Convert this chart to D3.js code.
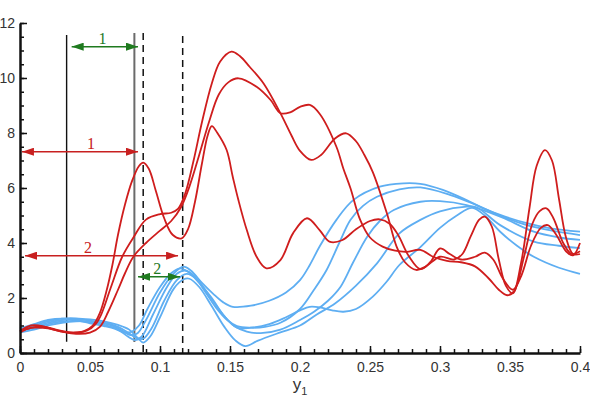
<!DOCTYPE html>
<html>
<head>
<meta charset="utf-8">
<script src="https://cdn.jsdelivr.net/npm/d3@7"></script>
<style>
  body { margin: 0; background: #fff; }
  svg { display: block; }
</style>
</head>
<body>
<svg id="chart" width="590" height="414"></svg>
<script>
// red curves
var redA = [[0,0.8],[0.008,1.0],[0.016,0.98],[0.026,0.82],[0.036,0.74],[0.045,0.78],[0.052,1.0],[0.057,1.45],[0.062,2.3],[0.066,3.2],[0.07,4.3],[0.075,5.4],[0.08,6.25],[0.085,6.8],[0.088,6.92],[0.092,6.7],[0.097,5.9],[0.103,4.9],[0.109,4.3],[0.1155,4.17],[0.12,4.5],[0.125,5.5],[0.13,6.9],[0.134,7.9],[0.137,8.25],[0.141,8.0],[0.1476,7.38],[0.152,6.4],[0.156,5.56],[0.162,4.47],[0.169,3.5],[0.176,3.08],[0.186,3.38],[0.195,4.35],[0.205,4.9],[0.214,4.47],[0.221,4.05],[0.23,4.1],[0.24,4.5],[0.25,4.8],[0.257,4.86],[0.264,4.7],[0.27,4.3],[0.278,3.5],[0.286,3.05],[0.293,3.3],[0.3,3.8],[0.307,3.6],[0.315,3.4],[0.325,3.5],[0.332,3.65],[0.338,3.4],[0.345,2.7],[0.352,2.3],[0.358,2.8],[0.365,3.9],[0.372,4.55],[0.377,4.65],[0.383,4.3],[0.39,3.7],[0.395,3.55],[0.4,4.0]];
var redB = [[0,0.75],[0.008,0.92],[0.018,0.95],[0.028,0.82],[0.038,0.74],[0.048,0.82],[0.054,1.05],[0.058,1.4],[0.065,2.4],[0.073,3.5],[0.081,4.2],[0.09,4.85],[0.1,5.05],[0.108,5.1],[0.113,5.25],[0.118,5.8],[0.124,7.0],[0.13,8.4],[0.137,9.8],[0.143,10.6],[0.151,10.96],[0.157,10.8],[0.164,10.41],[0.174,9.8],[0.186,8.72],[0.194,7.9],[0.2,7.35],[0.208,7.02],[0.215,7.2],[0.225,7.8],[0.233,7.99],[0.24,7.7],[0.246,7.2],[0.252,6.58],[0.262,5.09],[0.269,3.87],[0.275,3.3],[0.283,3.02],[0.29,3.15],[0.3,3.5],[0.31,3.4],[0.316,3.6],[0.322,4.25],[0.328,4.85],[0.332,4.96],[0.337,4.6],[0.342,3.4],[0.347,2.45],[0.352,2.17],[0.358,3.3],[0.364,5.3],[0.369,6.8],[0.375,7.38],[0.38,7.0],[0.385,5.6],[0.39,4.2],[0.395,3.6],[0.4,3.6]];
var redC = [[0,0.8],[0.01,0.92],[0.02,0.9],[0.03,0.78],[0.04,0.7],[0.05,0.74],[0.057,0.95],[0.063,1.5],[0.07,2.3],[0.075,2.9],[0.081,3.5],[0.09,4.0],[0.1,4.45],[0.108,4.8],[0.115,5.3],[0.121,6.05],[0.128,7.2],[0.135,8.4],[0.142,9.4],[0.149,9.85],[0.156,9.99],[0.169,9.68],[0.179,9.2],[0.186,8.72],[0.193,8.75],[0.2,8.95],[0.207,9.02],[0.214,8.7],[0.226,7.5],[0.231,6.7],[0.236,6.0],[0.243,4.84],[0.25,4.2],[0.259,3.87],[0.268,3.72],[0.276,3.68],[0.286,3.75],[0.295,3.5],[0.305,3.35],[0.315,3.3],[0.325,3.15],[0.335,2.7],[0.342,2.3],[0.348,2.1],[0.353,2.25],[0.36,3.5],[0.366,4.7],[0.371,5.15],[0.376,5.26],[0.381,4.9],[0.388,4.0],[0.394,3.6],[0.4,3.7]];

// blue curves
var blue1 = [[0,0.85],[0.01,0.95],[0.02,1.1],[0.03,1.2],[0.04,1.22],[0.05,1.18],[0.06,1.08],[0.068,0.95],[0.074,0.78],[0.079,0.65],[0.084,0.72],[0.09,1.2],[0.1,2.2],[0.109,2.85],[0.1167,3.14],[0.122,3.0],[0.13,2.55],[0.138,2.15],[0.145,1.85],[0.152,1.68],[0.165,1.72],[0.178,1.9],[0.19,2.2],[0.2,2.65],[0.207,3.2],[0.214,3.87],[0.226,4.84],[0.238,5.56],[0.257,6.05],[0.274,6.17],[0.286,6.15],[0.302,5.93],[0.319,5.56],[0.331,5.26],[0.343,5.02],[0.362,4.72],[0.379,4.53],[0.4,4.41]];
var blue2 = [[0,0.8],[0.01,0.9],[0.02,1.05],[0.03,1.15],[0.04,1.17],[0.05,1.12],[0.06,1.02],[0.07,0.85],[0.077,0.6],[0.082,0.47],[0.087,0.6],[0.095,1.4],[0.105,2.4],[0.112,2.88],[0.118,3.0],[0.124,2.82],[0.132,2.25],[0.14,1.65],[0.148,1.2],[0.155,0.98],[0.164,0.92],[0.175,0.95],[0.186,1.1],[0.2,1.6],[0.21,2.3],[0.219,3.02],[0.228,4.0],[0.236,4.84],[0.245,5.35],[0.255,5.68],[0.271,5.95],[0.286,6.02],[0.307,5.75],[0.326,5.38],[0.345,4.95],[0.362,4.65],[0.38,4.45],[0.4,4.29]];
var blue3 = [[0,0.75],[0.01,0.85],[0.02,1.0],[0.03,1.1],[0.04,1.15],[0.05,1.15],[0.06,1.1],[0.07,0.95],[0.077,0.75],[0.083,0.55],[0.088,0.52],[0.094,0.9],[0.103,1.9],[0.112,2.65],[0.119,2.88],[0.126,2.7],[0.135,2.1],[0.145,1.4],[0.153,0.98],[0.162,0.78],[0.172,0.72],[0.186,0.85],[0.2,1.2],[0.21,1.5],[0.22,1.9],[0.229,2.41],[0.238,3.3],[0.248,4.23],[0.257,4.8],[0.267,5.2],[0.286,5.5],[0.3,5.52],[0.319,5.38],[0.343,4.96],[0.367,4.41],[0.385,4.2],[0.4,4.11]];
var blue4 = [[0,0.85],[0.01,1.0],[0.02,1.15],[0.03,1.25],[0.04,1.26],[0.05,1.22],[0.06,1.15],[0.07,1.02],[0.078,0.85],[0.084,0.55],[0.088,0.38],[0.093,0.6],[0.1,1.3],[0.11,2.35],[0.117,2.68],[0.121,2.7],[0.128,2.4],[0.137,1.7],[0.146,0.95],[0.154,0.45],[0.161,0.25],[0.17,0.45],[0.186,0.75],[0.2,1.0],[0.212,1.4],[0.225,1.8],[0.24,2.45],[0.255,3.26],[0.271,4.35],[0.286,4.84],[0.3,5.15],[0.319,5.32],[0.326,5.3],[0.343,4.65],[0.367,4.05],[0.385,3.9],[0.4,3.81]];
var blue5 = [[0,0.9],[0.01,1.05],[0.02,1.2],[0.03,1.25],[0.04,1.2],[0.05,1.08],[0.06,0.98],[0.068,0.88],[0.075,0.74],[0.08,0.78],[0.085,1.0],[0.091,1.6],[0.1,2.4],[0.108,2.9],[0.114,3.08],[0.12,2.95],[0.128,2.55],[0.137,2.0],[0.145,1.4],[0.155,0.92],[0.165,0.92],[0.178,1.05],[0.19,1.3],[0.2,1.55],[0.207,1.68],[0.215,1.65],[0.223,1.55],[0.231,1.5],[0.24,1.6],[0.252,2.05],[0.262,2.6],[0.271,3.2],[0.286,3.85],[0.3,4.55],[0.312,5.0],[0.323,5.28],[0.333,4.95],[0.343,4.41],[0.355,3.9],[0.367,3.5],[0.385,3.1],[0.4,2.88]];

// reference lines: [x, yTop, yBottom]
var solidLines = [[0.0333, 11.56, 0.41, "#111", 1.4], [0.0817, 11.64, 0.4, "#6b6b6b", 2]];
var dashedLines = [[0.088, 11.64, 0], [0.1162, 11.53, 0]];

// double arrows: [x1, x2, y, label, label x]
var arrowStart = [0.0369, 0.0014, 0.0036, 0.0843];
var arrowEnd = [0.0843, 0.0843, 0.1129, 0.1143];
var arrowY = [11.14, 7.32, 3.54, 2.77];
var arrowLabel = ["1", "1", "2", "2"];
var arrowLabelX = [0.059, 0.0507, 0.0486, 0.098];
var arrowColor = ["#1f7a1f", "#c82020", "#c82020", "#1f7a1f"];

var xTicks = [0, 0.05, 0.1, 0.15, 0.2, 0.25, 0.3, 0.35, 0.4];
var yTicks = [0, 2, 4, 6, 8, 10, 12];

var svg = d3.select("#chart"),
    margin = {top: 23, right: 10, bottom: 61, left: 20},
    width = 590 - margin.left - margin.right,
    height = 414 - margin.top - margin.bottom;

var x = d3.scaleLinear().domain([0, 0.4]).range([0, width]);
var y = d3.scaleLinear().domain([0, 12]).range([height, 0]);

var g = svg.append("g").attr("transform", "translate(" + margin.left + "," + margin.top + ")");

var line = d3.line()
    .x(function (d) { return x(d[0]); })
    .y(function (d) { return y(d[1]); })
    .curve(d3.curveCatmullRom.alpha(0.5));

// vertical marker lines
g.selectAll(".vsolid").data(solidLines).enter().append("line")
    .attr("x1", function (d) { return x(d[0]); }).attr("x2", function (d) { return x(d[0]); })
    .attr("y1", function (d) { return y(d[1]); }).attr("y2", function (d) { return y(d[2]); })
    .attr("stroke", function (d) { return d[3]; })
    .attr("stroke-width", function (d) { return d[4]; });

g.selectAll(".vdash").data(dashedLines).enter().append("line")
    .attr("x1", function (d) { return x(d[0]); }).attr("x2", function (d) { return x(d[0]); })
    .attr("y1", function (d) { return y(d[1]); }).attr("y2", function (d) { return y(d[2]); })
    .attr("stroke", "#111")
    .attr("stroke-width", 1.5)
    .attr("stroke-dasharray", "7,5");

[blue1, blue2, blue3, blue4, blue5].forEach(function (s) {
    g.append("path").datum(s)
        .attr("fill", "none")
        .attr("stroke", "#5eaef2")
        .attr("stroke-width", 1.8)
        .attr("d", line);
});

[redA, redB, redC].forEach(function (s) {
    g.append("path").datum(s)
        .attr("fill", "none")
        .attr("stroke", "#cf1d1d")
        .attr("stroke-width", 1.8)
        .attr("d", line);
});

// arrows
var defs = svg.append("defs");
arrowColor.forEach(function (c, i) {
    defs.append("marker")
        .attr("id", "ah" + i)
        .attr("viewBox", "0 0 12 8")
        .attr("refX", 12).attr("refY", 4)
        .attr("markerWidth", 12).attr("markerHeight", 8)
        .attr("markerUnits", "userSpaceOnUse")
        .attr("orient", "auto-start-reverse")
        .append("path")
        .attr("d", "M0,0 L12,4 L0,8 Z")
        .attr("fill", c);
});

arrowY.forEach(function (ay, i) {
    g.append("line")
        .attr("x1", x(arrowStart[i])).attr("x2", x(arrowEnd[i]))
        .attr("y1", y(ay)).attr("y2", y(ay))
        .attr("stroke", arrowColor[i])
        .attr("stroke-width", 1.5)
        .attr("marker-start", "url(#ah" + i + ")")
        .attr("marker-end", "url(#ah" + i + ")");
    g.append("text")
        .attr("x", x(arrowLabelX[i]))
        .attr("y", y(ay) - 3)
        .attr("text-anchor", "middle")
        .attr("fill", arrowColor[i])
        .style("font-family", "'Liberation Serif', 'Times New Roman', serif")
        .style("font-size", "16px")
        .text(arrowLabel[i]);
});

// axes
var xMinor = d3.range(0, 41).map(function (i) { return i / 100; });
var yMinor = d3.range(0, 25).map(function (i) { return i / 2; });

g.append("g")
    .attr("transform", "translate(0," + height + ")")
    .call(d3.axisBottom(x).tickValues(xMinor).tickSize(-4).tickFormat(""))
    .call(function (s) { s.select(".domain").remove(); });

g.append("g")
    .call(d3.axisLeft(y).tickValues(yMinor).tickSize(-4).tickFormat(""))
    .call(function (s) { s.select(".domain").remove(); });

g.append("g")
    .attr("transform", "translate(0," + height + ")")
    .call(d3.axisBottom(x).tickValues(xTicks).tickSizeInner(-7).tickSizeOuter(0).tickPadding(9)
        .tickFormat(function (d) { return String(+d.toFixed(2)); }));

g.append("g")
    .call(d3.axisLeft(y).tickValues(yTicks).tickSizeInner(-7).tickSizeOuter(0).tickPadding(5));

svg.selectAll(".tick line").attr("stroke", "#111").attr("stroke-width", 1.5);
svg.selectAll(".domain").attr("stroke", "#111").attr("stroke-width", 2.5);
svg.selectAll(".tick text")
    .style("font-family", "'Liberation Sans', Arial, sans-serif")
    .style("font-size", "14px")
    .attr("fill", "#333");

// x title: y with subscript 1
var title = svg.append("text")
    .attr("x", margin.left + width / 2)
    .attr("y", 390)
    .attr("text-anchor", "middle")
    .attr("fill", "#333")
    .style("font-family", "'Liberation Sans', Arial, sans-serif")
    .style("font-size", "17px");
title.append("tspan").text("y");
title.append("tspan").attr("dy", 5).style("font-size", "11px").text("1");
</script>
</body>
</html>
